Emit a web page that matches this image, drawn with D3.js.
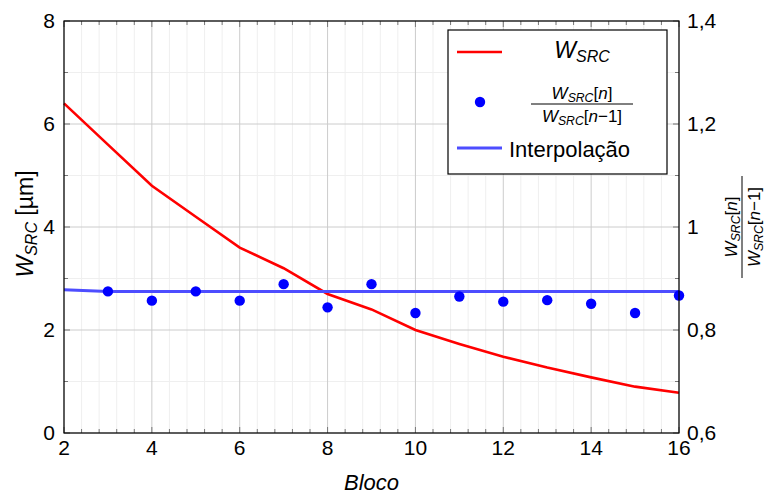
<!DOCTYPE html>
<html>
<head>
<meta charset="utf-8">
<script src="https://cdn.jsdelivr.net/npm/d3@7"></script>
<style>
  body { margin: 0; background: #fff; }
</style>
</head>
<body>
<div id="chart"></div>
<script>
// data
const blocos = [2, 3, 4, 5, 6, 7, 8, 9, 10, 11, 12, 13, 14, 15, 16];
const wSrc = [6.4, 5.6, 4.8, 4.2, 3.6, 3.2, 2.7, 2.4, 2.0, 1.73, 1.48, 1.27, 1.08, 0.9, 0.78];
const ratioX = [3, 4, 5, 6, 7, 8, 9, 10, 11, 12, 13, 14, 15, 16];
const ratioY = [0.875, 0.857, 0.875, 0.857, 0.889, 0.844, 0.889, 0.833, 0.865, 0.855, 0.858, 0.851, 0.833, 0.867];
const interpX = [2, 3, 16];
const interpY = [0.878, 0.875, 0.875];
const xTicks = [2, 4, 6, 8, 10, 12, 14, 16];
const yLeftTicks = [0, 2, 4, 6, 8];
const yRightTicks = [0.6, 0.8, 1.0, 1.2, 1.4];

// svg container
const svgWidth = 767, svgHeight = 497;
const margin = { top: 21, right: 88, bottom: 64, left: 64 };
const chartWidth = svgWidth - margin.left - margin.right;
const chartHeight = svgHeight - margin.top - margin.bottom;

const svg = d3.select("#chart").append("svg")
  .attr("width", svgWidth)
  .attr("height", svgHeight)
  .style("font-family", "'Liberation Sans', Arial, sans-serif");

const g = svg.append("g")
  .attr("transform", `translate(${margin.left}, ${margin.top})`);

// scales
const xScale = d3.scaleLinear().domain([2, 16]).range([0, chartWidth]);
const yLeft = d3.scaleLinear().domain([0, 8]).range([chartHeight, 0]);
const yRight = d3.scaleLinear().domain([0.6, 1.4]).range([chartHeight, 0]);

// minor grid
const xMinor = d3.range(2, 16.001, 0.4).filter(v => Math.abs(v / 2 - Math.round(v / 2)) > 0.01);
const yMinor = [1, 3, 5, 7];
g.selectAll(".xminor").data(xMinor).enter().append("line")
  .attr("x1", d => xScale(d)).attr("x2", d => xScale(d))
  .attr("y1", 0).attr("y2", chartHeight)
  .attr("stroke", "#efefef").attr("stroke-width", 1);
g.selectAll(".yminor").data(yMinor).enter().append("line")
  .attr("x1", 0).attr("x2", chartWidth)
  .attr("y1", d => yLeft(d)).attr("y2", d => yLeft(d))
  .attr("stroke", "#efefef").attr("stroke-width", 1);

// major grid
g.selectAll(".xmajor").data(xTicks).enter().append("line")
  .attr("x1", d => xScale(d)).attr("x2", d => xScale(d))
  .attr("y1", 0).attr("y2", chartHeight)
  .attr("stroke", "#cccccc").attr("stroke-width", 1);
g.selectAll(".ymajor").data(yLeftTicks).enter().append("line")
  .attr("x1", 0).attr("x2", chartWidth)
  .attr("y1", d => yLeft(d)).attr("y2", d => yLeft(d))
  .attr("stroke", "#cccccc").attr("stroke-width", 1);

// ticks (inward, mirrored)
const tickColor = "#777";
function vTicks(vals, len) {
  vals.forEach(v => {
    g.append("line").attr("x1", xScale(v)).attr("x2", xScale(v))
      .attr("y1", chartHeight).attr("y2", chartHeight - len).attr("stroke", tickColor);
    g.append("line").attr("x1", xScale(v)).attr("x2", xScale(v))
      .attr("y1", 0).attr("y2", len).attr("stroke", tickColor);
  });
}
vTicks(xTicks, 6);
vTicks(xMinor, 4);
yLeftTicks.forEach(v => g.append("line").attr("x1", 0).attr("x2", 6)
  .attr("y1", yLeft(v)).attr("y2", yLeft(v)).attr("stroke", tickColor));
yMinor.forEach(v => g.append("line").attr("x1", 0).attr("x2", 4)
  .attr("y1", yLeft(v)).attr("y2", yLeft(v)).attr("stroke", tickColor));
yRightTicks.forEach(v => g.append("line").attr("x1", chartWidth).attr("x2", chartWidth - 6)
  .attr("y1", yRight(v)).attr("y2", yRight(v)).attr("stroke", tickColor));
[0.7, 0.9, 1.1, 1.3].forEach(v => g.append("line").attr("x1", chartWidth).attr("x2", chartWidth - 4)
  .attr("y1", yRight(v)).attr("y2", yRight(v)).attr("stroke", tickColor));

// tick labels
g.selectAll(".xlab").data(xTicks).enter().append("text")
  .attr("x", d => xScale(d)).attr("y", chartHeight + 22)
  .attr("text-anchor", "middle").attr("font-size", 21)
  .text(d => d);
g.selectAll(".ylab").data(yLeftTicks).enter().append("text")
  .attr("x", -9).attr("y", d => yLeft(d) + 7)
  .attr("text-anchor", "end").attr("font-size", 21)
  .text(d => d);
g.selectAll(".rlab").data(yRightTicks).enter().append("text")
  .attr("x", chartWidth + 8).attr("y", d => yRight(d) + 7)
  .attr("text-anchor", "start").attr("font-size", 21)
  .text(d => d3.format("~g")(d).replace(".", ","));

// series
const redLine = d3.line().x((d, i) => xScale(blocos[i])).y(d => yLeft(d));
g.append("path").datum(wSrc)
  .attr("d", redLine)
  .attr("fill", "none").attr("stroke", "#ff0000").attr("stroke-width", 2.6);

const blueLine = d3.line().x((d, i) => xScale(interpX[i])).y(d => yRight(d));
g.append("path").datum(interpY)
  .attr("d", blueLine)
  .attr("fill", "none").attr("stroke", "#4d4dff").attr("stroke-width", 3);

g.selectAll(".pt").data(ratioY).enter().append("circle")
  .attr("cx", (d, i) => xScale(ratioX[i])).attr("cy", d => yRight(d))
  .attr("r", 5.2).attr("fill", "#0000ff");

// frame
g.append("rect").attr("width", chartWidth).attr("height", chartHeight)
  .attr("fill", "none").attr("stroke", "#000").attr("stroke-width", 1.2);

// axis titles
svg.append("text").attr("x", margin.left + chartWidth / 2).attr("y", 490)
  .attr("text-anchor", "middle").attr("font-size", 22).attr("font-style", "italic")
  .text("Bloco");

const lt = svg.append("text")
  .attr("transform", "translate(33, 224) rotate(-90)")
  .attr("text-anchor", "middle").attr("font-size", 23);
lt.append("tspan").attr("font-style", "italic").text("W");
lt.append("tspan").attr("font-style", "italic").attr("font-size", 16).attr("dy", 4).text("SRC");
lt.append("tspan").attr("dy", -4).text(" [µm]");

// fraction helper
function fraction(parent, cx, cy, size) {
  const sub = size * 0.72;
  const top = parent.append("text").attr("x", cx).attr("y", cy - 5)
    .attr("text-anchor", "middle").attr("font-size", size);
  top.append("tspan").attr("font-style", "italic").text("W");
  top.append("tspan").attr("font-style", "italic").attr("font-size", sub).attr("dy", 3).text("SRC");
  top.append("tspan").attr("dy", -3).text("[");
  top.append("tspan").attr("font-style", "italic").text("n");
  top.append("tspan").text("]");
  parent.append("line").attr("x1", cx - size * 3.0).attr("x2", cx + size * 3.0)
    .attr("y1", cy).attr("y2", cy).attr("stroke", "#000").attr("stroke-width", 1);
  const bot = parent.append("text").attr("x", cx).attr("y", cy + size + 1)
    .attr("text-anchor", "middle").attr("font-size", size);
  bot.append("tspan").attr("font-style", "italic").text("W");
  bot.append("tspan").attr("font-style", "italic").attr("font-size", sub).attr("dy", 3).text("SRC");
  bot.append("tspan").attr("dy", -3).text("[");
  bot.append("tspan").attr("font-style", "italic").text("n");
  bot.append("tspan").text("−1]");
}

// right title
const rt = svg.append("g").attr("transform", "translate(742, 227) rotate(-90)");
fraction(rt, 0, 0, 17);

// legend
const legend = svg.append("g");
legend.append("rect").attr("x", 448).attr("y", 30).attr("width", 219).attr("height", 144)
  .attr("fill", "#fff").attr("stroke", "#000").attr("stroke-width", 1.2);
legend.append("line").attr("x1", 457).attr("x2", 502).attr("y1", 52).attr("y2", 52)
  .attr("stroke", "#ff0000").attr("stroke-width", 2.6);
const l1 = legend.append("text").attr("x", 582).attr("y", 58)
  .attr("text-anchor", "middle").attr("font-size", 23).attr("font-style", "italic");
l1.append("tspan").text("W");
l1.append("tspan").attr("font-size", 16).attr("dy", 4).text("SRC");
legend.append("circle").attr("cx", 480).attr("cy", 102).attr("r", 5.2).attr("fill", "#0000ff");
fraction(legend, 582, 104, 17);
legend.append("line").attr("x1", 457).attr("x2", 502).attr("y1", 148).attr("y2", 148)
  .attr("stroke", "#4d4dff").attr("stroke-width", 3);
legend.append("text").attr("x", 509).attr("y", 157).attr("font-size", 22).text("Interpolação");
</script>
</body>
</html>
